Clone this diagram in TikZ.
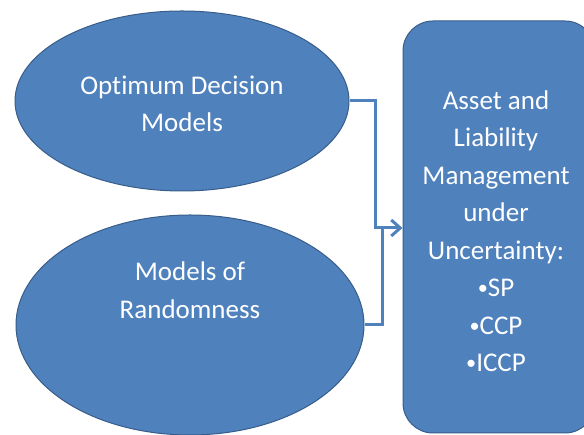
\documentclass[tikz,border=0pt]{standalone}
\usepackage{fontspec}
\setmainfont[Ligatures=NoCommon]{Carlito}
\usetikzlibrary{shapes.geometric,arrows.meta}
\definecolor{fillblue}{RGB}{79,129,189}
\definecolor{edgeblue}{RGB}{56,93,138}
\newcommand{\smallbullet}{\raisebox{2pt}{\scalebox{0.75}{•}}}
\tikzset{
  bubble/.style={ellipse, draw=edgeblue, line width=1pt, fill=fillblue, inner sep=0pt},
  panel/.style={draw=edgeblue, line width=1pt, fill=fillblue, rounded corners=30pt, inner sep=0pt},
  label/.style={text=white, align=center, font=\fontsize{27pt}{37.5pt}\selectfont},
  link/.style={draw=fillblue, line width=3pt},
}
\begin{document}
\begin{tikzpicture}[x=1pt,y=1pt]
  \useasboundingbox (0,0) rectangle (584,435);
  % the two input ellipses
  \node[bubble, minimum width=334pt, minimum height=180pt] (e1) at (182,334) {};
  \node[label] (t1) at (182,331) {Optimum Decision\\Models};
  \node[bubble, minimum width=348pt, minimum height=220pt] (e2) at (190,110) {};
  \node[label] (t2) at (190,145) {Models of\\Randomness};
  % the result panel, running off the right edge
  \node[panel, minimum width=192pt, minimum height=412pt] (box) at (499,208) {};
  \node[label] (t3) at (496,204) {Asset and\\Liability\\Management\\under\\Uncertainty:\\\smallbullet SP\\\smallbullet CCP\\\smallbullet ICCP};
  % connectors joining into one arrow
  \coordinate (j) at (375,207);
  \coordinate (k) at (382,207);
  \draw[link] (e2.east) -- (e2.east -| k) -- (k);
  \draw[link, -{Straight Barb[length=9pt,width=16pt,line width=3pt]}]
    (e1.east) -- (e1.east -| j) -- (j) -- (box.west |- j);
\end{tikzpicture}
\end{document}
